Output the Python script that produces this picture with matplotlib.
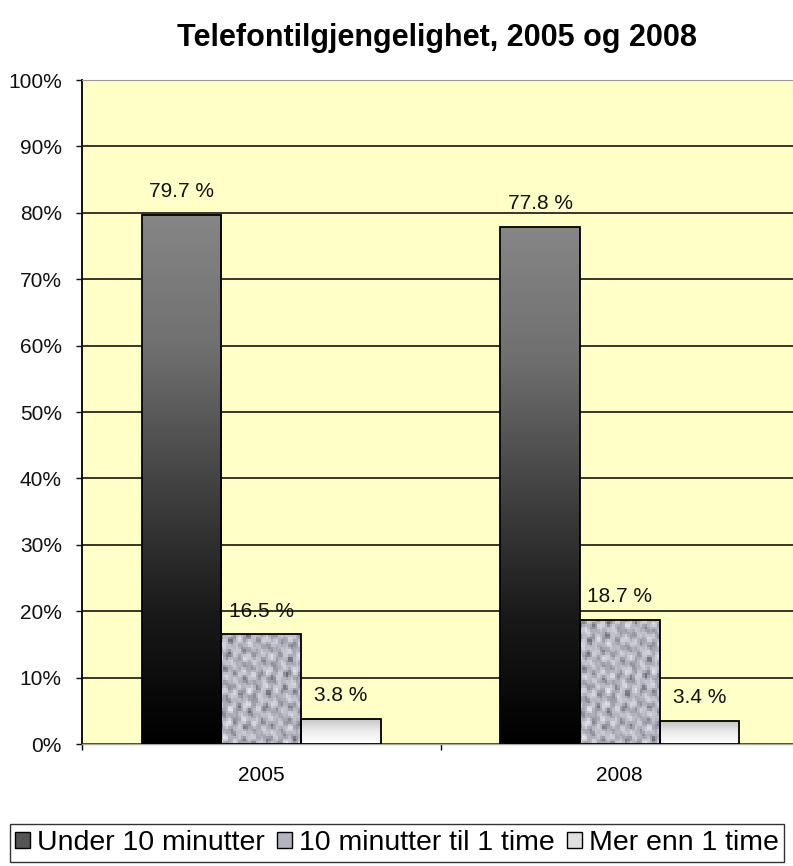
import numpy as np
import matplotlib
matplotlib.use("Agg")
import matplotlib.pyplot as plt
from matplotlib.patches import Patch
from matplotlib.colors import LinearSegmentedColormap

plt.rcParams['font.family'] = ['Liberation Sans', 'DejaVu Sans']

categories = ["2005", "2008"]
series_names = ["Under 10 minutter", "10 minutter til 1 time", "Mer enn 1 time"]
values = {
    "Under 10 minutter": [79.7, 77.8],
    "10 minutter til 1 time": [16.5, 18.7],
    "Mer enn 1 time": [3.8, 3.4],
}
labels = {
    "Under 10 minutter": ["79.7 %", "77.8 %"],
    "10 minutter til 1 time": ["16.5 %", "18.7 %"],
    "Mer enn 1 time": ["3.8 %", "3.4 %"],
}
yticks = [0, 10, 20, 30, 40, 50, 60, 70, 80, 90, 100]
title = "Telefontilgjengelighet, 2005 og 2008"

W, H = 793, 866
fig = plt.figure(figsize=(W / 100, H / 100), dpi=100)
ax = fig.add_axes([82 / W, 1 - 744 / H, (799 - 82) / W, (744 - 80) / H])
ax.set_facecolor('#FFFFC8')

dark = LinearSegmentedColormap.from_list('d', ['#000000', '#1a1a1a', '#444444', '#707070', '#868686'])
light = LinearSegmentedColormap.from_list('l', ['#ffffff', '#ececec', '#c4c4c4'])
granite = LinearSegmentedColormap.from_list('g', ['#6c6c76', '#a4a4ae', '#c8c8d2', '#e4e4ec'])

n_series = len(series_names)
gap = 1.5
bw = 1.0 / (n_series + gap)
x = np.arange(len(categories))
grad = np.linspace(0, 1, 256).reshape(-1, 1)

# deterministic mottled texture for the middle series (styling only)
gx, gy = np.meshgrid(np.arange(80), np.arange(200))
tex = (np.sin(gx * 0.9 + gy * 0.35) * np.sin(gy * 0.7 - gx * 0.3)
       + 0.6 * np.sin(gx * 1.7 + 2.1) * np.cos(gy * 1.3 + gx * 0.5)
       + 0.5 * np.sin((gx + gy) * 0.45) * np.cos((gx - gy) * 0.6))
tex = (tex - tex.min()) / (tex.max() - tex.min())

for si, name in enumerate(series_names):
    offs = (si - (n_series - 1) / 2) * bw
    for ci in range(len(categories)):
        v = values[name][ci]
        x0 = x[ci] + offs - bw / 2
        x1 = x0 + bw
        if si == 0:
            ax.imshow(grad, extent=[x0, x1, 0, v], origin='lower', aspect='auto',
                      cmap=dark, zorder=2, interpolation='bilinear')
        elif si == 2:
            ax.imshow(grad, extent=[x0, x1, 0, v], origin='lower', aspect='auto',
                      cmap=light, zorder=2, interpolation='bilinear')
        else:
            rows = max(2, int(v / 100 * 664 / 2.5))
            ax.imshow(tex[:rows, :32], extent=[x0, x1, 0, v], origin='lower', aspect='auto',
                      cmap=granite, zorder=2, interpolation='nearest')
        ax.bar(x[ci] + offs, v, width=bw, facecolor='none', edgecolor='black',
               linewidth=1.3, zorder=3)
        ax.text(x[ci] + offs, v + 2.7, labels[name][ci], ha='center', va='baseline',
                fontsize=15, color='#111111', zorder=4)

ax.set_xlim(-0.5, len(categories) - 0.5)
ax.set_ylim(0, 100)
ax.set_yticks(yticks)
ax.set_yticklabels([f"{t}%" for t in yticks], fontsize=15)
ax.yaxis.grid(True, color='black', linewidth=1.1, zorder=1)
ax.set_axisbelow(True)

ax.set_xticks(x)
ax.set_xticklabels(categories, fontsize=15)
ax.tick_params(axis='x', length=0, pad=16)
ax.set_xticks([-0.5, 0.5, 1.5], minor=True)
ax.tick_params(axis='x', which='minor', length=4.5, width=1, direction='out')
ax.tick_params(axis='y', length=4.5, width=1, direction='out', pad=10, colors='#111111')

ax.spines['right'].set_visible(False)
ax.spines['top'].set_color('#999999')
ax.spines['top'].set_linestyle((0, (1, 1)))
ax.spines['left'].set_linewidth(1.3)
ax.spines['bottom'].set_color('#aaaaaa')
ax.spines['bottom'].set_linewidth(1.0)

fig.text(437 / W, 1 - 38 / H, title, ha='center', va='center', fontsize=22, fontweight='bold')

handles = [
    Patch(facecolor='#555555', edgecolor='black'),
    Patch(facecolor='#b4b4be', edgecolor='black'),
    Patch(facecolor='#e0e0e0', edgecolor='black'),
]
leg = fig.legend(handles, series_names, loc='center', bbox_to_anchor=(397 / W, 1 - 843 / H),
                 ncol=3, fontsize=20.5, frameon=True, fancybox=False, edgecolor='black',
                 handlelength=0.5, handleheight=0.5, handletextpad=0.25, columnspacing=0.45,
                 borderpad=0.2, borderaxespad=0)
leg.get_frame().set_linewidth(1.0)

fig.savefig('out.png', dpi=100)
